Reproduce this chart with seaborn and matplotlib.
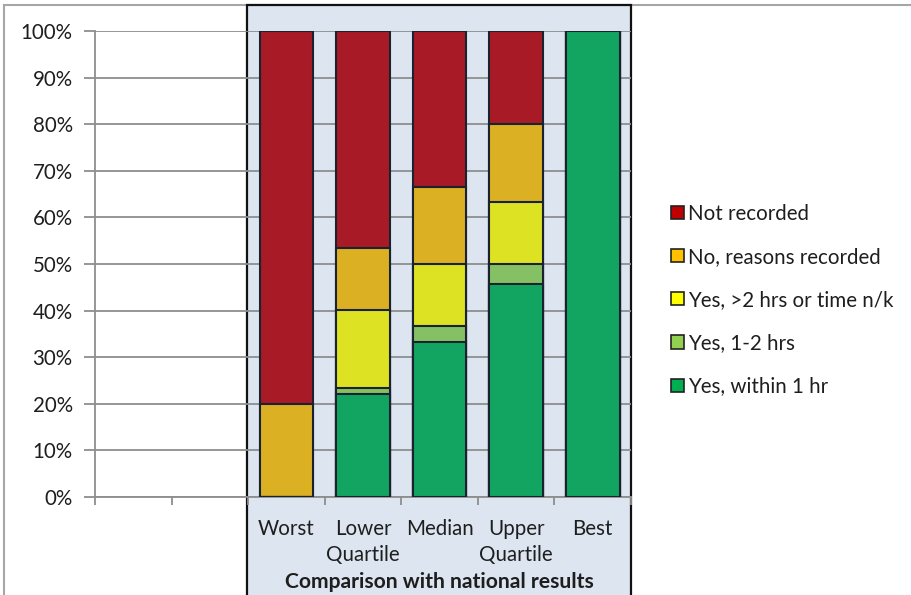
import numpy as np
import pandas as pd
import matplotlib
matplotlib.use("Agg")
import matplotlib.pyplot as plt
import seaborn as sns
from matplotlib.patches import Rectangle, Patch
from matplotlib.ticker import FixedLocator

# Category slots along the x axis (two unused slots on the left)
slots = ["", " ", "Worst", "Lower\nQuartile", "Median", "Upper\nQuartile", "Best"]
groups = ["Worst", "Lower\nQuartile", "Median", "Upper\nQuartile", "Best"]

# Percentages per group, bottom segment first
within_1hr = [0.0, 22.2, 33.3, 45.8, 100.0]
one_to_two_hrs = [0.0, 1.2, 3.3, 4.2, 0.0]
over_two_hrs = [0.0, 16.7, 13.3, 13.3, 0.0]
no_reasons = [20.0, 13.3, 16.7, 16.7, 0.0]
not_recorded = [80.0, 46.6, 33.4, 20.0, 0.0]

series_names = ["Yes, within 1 hr", "Yes, 1-2 hrs", "Yes, >2 hrs or time n/k",
                "No, reasons recorded", "Not recorded"]
series_values = [within_1hr, one_to_two_hrs, over_two_hrs, no_reasons, not_recorded]
bar_colors = ["#12A562", "#86C064", "#DDE322", "#DBB123", "#A81A26"]
legend_colors = ["#00B050", "#92D050", "#FFFF00", "#FFC000", "#C00000"]
y_ticks = [0, 10, 20, 30, 40, 50, 60, 70, 80, 90, 100]

sns.set_theme(style="white")
plt.rcParams["font.family"] = ["Lato", "DejaVu Sans"]
text_color = "#1E1E1E"
grid_color = "#8E8E8E"
fs = 14.8

W, H = 911, 595
fig = plt.figure(figsize=(W / 100, H / 100), dpi=100)

def fx(px):
    return px / W

def fy(py):
    return 1 - py / H

# Outer chart border
fig.patches.append(Rectangle((fx(4), fy(620)), fx(930) - fx(4), fy(5) - fy(620),
                             transform=fig.transFigure, facecolor="white",
                             edgecolor="#A6A6A6", lw=1.5, zorder=0))
# Shaded comparison panel
fig.patches.append(Rectangle((fx(247), fy(620)), fx(631) - fx(247), fy(5) - fy(620),
                             transform=fig.transFigure, facecolor="#DCE5F0",
                             edgecolor="#111111", lw=1.6, zorder=1))

ax = fig.add_axes([fx(95), fy(497), fx(631) - fx(95), fy(31) - fy(497)])
ax.set_facecolor("none")
ax.set_zorder(2)

# Long-form table of cumulative heights for the stacked bars
rows = []
cum = np.zeros(len(groups))
for name, vals in zip(series_names, series_values):
    cum = cum + np.array(vals)
    for g, c in zip(groups, cum):
        rows.append({"group": g, "series": name, "top": c})
df = pd.DataFrame(rows)

# Draw from the tallest cumulative stack down so lower segments sit on top
for name, color in reversed(list(zip(series_names, bar_colors))):
    sub = df[df["series"] == name]
    sns.barplot(data=sub, x="group", y="top", order=slots, color=color,
                width=0.7, edgecolor="#1A2230", linewidth=1.5, saturation=1,
                ax=ax, zorder=3)

ax.set_xlim(-0.5, len(slots) - 0.5)
ax.set_ylim(0, 100)
ax.set_xlabel("")
ax.set_ylabel("")

ax.yaxis.set_major_locator(FixedLocator(y_ticks))
ax.set_yticklabels([f"{t}%" for t in y_ticks])
ax.grid(axis="y", color=grid_color, lw=1.3, zorder=1)
ax.set_axisbelow(True)
ax.tick_params(axis="y", length=8, width=1.3, color=grid_color, pad=8,
               labelsize=fs, labelcolor=text_color, left=True)

ax.set_xticks(range(len(slots)))
ax.set_xticklabels(slots, linespacing=1.38)
ax.xaxis.set_minor_locator(FixedLocator(np.arange(-0.5, len(slots), 1.0)))
ax.tick_params(axis="x", which="major", length=0, pad=15.8, labelsize=fs,
               labelcolor=text_color)
ax.tick_params(axis="x", which="minor", length=6, width=1.3, color=grid_color,
               bottom=True)

for side in ["top", "right"]:
    ax.spines[side].set_visible(False)
for side in ["left", "bottom"]:
    ax.spines[side].set_color(grid_color)
    ax.spines[side].set_linewidth(1.3)

fig.text(fx(439), fy(582), "Comparison with national results", ha="center",
         va="center", fontsize=15.2, fontweight="bold", color=text_color)

handles = [Patch(facecolor=c, edgecolor="#222222", lw=1.2, label=n)
           for n, c in zip(series_names, legend_colors)]
handles = handles[::-1]
fig.legend(handles=handles, loc="center left",
           bbox_to_anchor=(fx(663), fy(300)), frameon=False,
           fontsize=fs, labelcolor=text_color, handlelength=0.62,
           handleheight=0.62, handletextpad=0.2, labelspacing=1.13,
           borderaxespad=0)

fig.savefig("out.png", dpi=100)
